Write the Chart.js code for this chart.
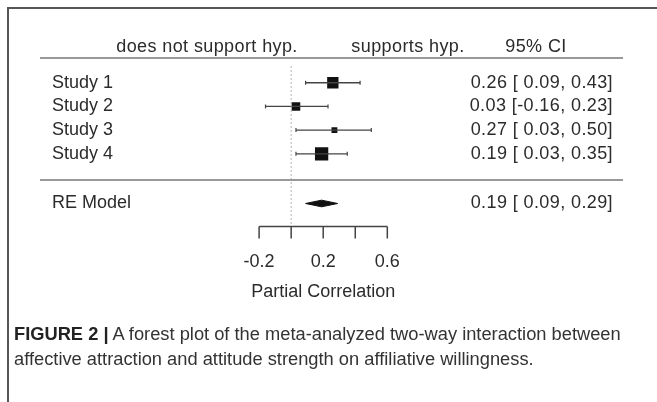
<!DOCTYPE html>
<html lang="en">
<head>
  <meta charset="UTF-8">
  <script src="https://cdn.jsdelivr.net/npm/chart.js"></script>
  <title>Forest plot</title>
  <style>
    body { margin: 0; background: #fff; }
    #wrap { position: relative; width: 657px; height: 402px; overflow: hidden; }
    #frameTop { position: absolute; left: 7px; top: 7px; width: 650px; height: 2px; background: #555; }
    #frameLeft { position: absolute; left: 7px; top: 7px; width: 2px; height: 395px; background: #555; }
    #caption { position: absolute; left: 14px; top: 321px; width: 640px;
      font: 18.3px "Liberation Sans", Arial, sans-serif; line-height: 25px; color: #333; white-space: nowrap; }
    #caption b { color: #222; }
    canvas { position: absolute; left: 0; top: 0; }
  </style>
</head>
<body>
<div id="wrap">
  <canvas id="forest" width="657" height="402"></canvas>
  <div id="frameTop"></div>
  <div id="frameLeft"></div>
  <div id="caption"><b>FIGURE 2 |</b> A forest plot of the meta-analyzed two-way interaction between<br>affective attraction and attitude strength on affiliative willingness.</div>
</div>

<script>
  // dados do forest plot
  const studies = ['Study 1', 'Study 2', 'Study 3', 'Study 4'];
  const estimates = [0.26, 0.03, 0.27, 0.19];
  const lowerCI = [0.09, -0.16, 0.03, 0.03];
  const upperCI = [0.43, 0.23, 0.50, 0.35];
  const weights = [29, 22, 15, 34];

  const modelLabel = 'RE Model';
  const modelEst = 0.19;
  const modelLower = 0.09;
  const modelUpper = 0.29;

  const tickValues = [-0.2, 0, 0.2, 0.4, 0.6];
  const tickLabels = ['-0.2', '', '0.2', '', '0.6'];
  const axisTitle = 'Partial Correlation';
  const headers = ['does not support hyp.', 'supports hyp.', '95% CI'];

  // linhas (y) de cada estudo
  const rows = [4, 3, 2, 1];
  const modelRow = -1.1;
  const axisRow = -2.05;

  const FONT = '"Liberation Sans", Arial, sans-serif';
  const TEXT = '#2b2b2b';

  function fmtCI(est, lo, hi) {
    const l = (lo < 0 ? '' : ' ') + lo.toFixed(2);
    return est.toFixed(2) + ' [' + l + ', ' + hi.toFixed(2) + ']';
  }

  const maxW = Math.max(...weights);
  const datasets = [];

  // linha de referência pontilhada em 0
  datasets.push({
    data: [{x: 0, y: 4.7}, {x: 0, y: axisRow}],
    showLine: true, borderColor: '#999', borderWidth: 1, borderDash: [1.5, 2.5],
    pointRadius: 0
  });

  // intervalos de confiança
  studies.forEach((s, i) => {
    datasets.push({
      data: [{x: lowerCI[i], y: rows[i]}, {x: upperCI[i], y: rows[i]}],
      showLine: true, borderColor: '#444', borderWidth: 1.3,
      pointStyle: 'line', rotation: 90, pointRadius: 2,
      pointBorderColor: '#444', pointBorderWidth: 1.2
    });
  });

  // estimativas (quadrados proporcionais ao peso)
  datasets.push({
    data: estimates.map((e, i) => ({x: e, y: rows[i]})),
    pointStyle: 'rect',
    pointRadius: weights.map(w => 9.4 * w / maxW),
    backgroundColor: '#111', borderColor: '#111', borderWidth: 0
  });

  // diamante do modelo RE
  const h = 0.14;
  datasets.push({
    data: [
      {x: modelLower, y: modelRow}, {x: modelEst, y: modelRow + h},
      {x: modelUpper, y: modelRow}, {x: modelEst, y: modelRow - h},
      {x: modelLower, y: modelRow}
    ],
    showLine: true, fill: 'shape', backgroundColor: '#111', borderColor: '#111',
    borderWidth: 1, pointRadius: 0, tension: 0
  });

  const forestText = {
    id: 'forestText',
    beforeDatasetsDraw(chart) {
      const {ctx, scales: {x, y}} = chart;
      ctx.save();
      ctx.strokeStyle = '#999';
      ctx.lineWidth = 2;
      [5.05, -0.1].forEach(r => {
        const py = Math.round(y.getPixelForValue(r));
        ctx.beginPath();
        ctx.moveTo(40, py);
        ctx.lineTo(623, py);
        ctx.stroke();
      });
      ctx.restore();
    },
    afterDatasetsDraw(chart) {
      const {ctx, scales: {x, y}} = chart;
      ctx.save();
      ctx.fillStyle = TEXT;
      ctx.font = '18px ' + FONT;
      ctx.textBaseline = 'middle';

      // cabeçalho
      const hy = y.getPixelForValue(5.5);
      ctx.letterSpacing = '0.4px';
      ctx.textAlign = 'center';
      ctx.fillText(headers[0], 207, hy);
      ctx.fillText(headers[1], 408, hy);
      ctx.fillText(headers[2], 536, hy);

      // rótulos e IC
      studies.forEach((s, i) => {
        const py = y.getPixelForValue(rows[i]);
        ctx.letterSpacing = '0px';
        ctx.textAlign = 'left';
        ctx.fillText(s, 52, py);
        ctx.letterSpacing = '0.4px';
        ctx.textAlign = 'right';
        ctx.fillText(fmtCI(estimates[i], lowerCI[i], upperCI[i]), 613, py);
      });
      const my = y.getPixelForValue(modelRow);
      ctx.letterSpacing = '0px';
      ctx.textAlign = 'left';
      ctx.fillText(modelLabel, 52, my);
      ctx.letterSpacing = '0.4px';
      ctx.textAlign = 'right';
      ctx.fillText(fmtCI(modelEst, modelLower, modelUpper), 613, my);

      // eixo x
      const ay = Math.round(y.getPixelForValue(axisRow)) + 0.5;
      ctx.strokeStyle = '#444';
      ctx.lineWidth = 1.5;
      ctx.beginPath();
      ctx.moveTo(x.getPixelForValue(tickValues[0]), ay);
      ctx.lineTo(x.getPixelForValue(tickValues[tickValues.length - 1]), ay);
      tickValues.forEach(t => {
        const px = x.getPixelForValue(t);
        ctx.moveTo(px, ay);
        ctx.lineTo(px, ay + 12);
      });
      ctx.stroke();
      ctx.letterSpacing = '0px';
      ctx.textAlign = 'center';
      tickValues.forEach((t, i) => {
        if (tickLabels[i]) ctx.fillText(tickLabels[i], x.getPixelForValue(t), ay + 36);
      });
      ctx.fillText(axisTitle, x.getPixelForValue((tickValues[0] + tickValues[tickValues.length - 1]) / 2), ay + 66);
      ctx.restore();
    }
  };

  new Chart(document.getElementById('forest').getContext('2d'), {
    type: 'scatter',
    data: {datasets: datasets},
    options: {
      responsive: false,
      animation: false,
      events: [],
      layout: {padding: 0},
      plugins: {legend: {display: false}, tooltip: {enabled: false}},
      scales: {
        x: {type: 'linear', display: false, min: -1.758, max: 2.224},
        y: {type: 'linear', display: false, min: -9.09, max: 7.10}
      }
    },
    plugins: [forestText]
  });
</script>
</body>
</html>
